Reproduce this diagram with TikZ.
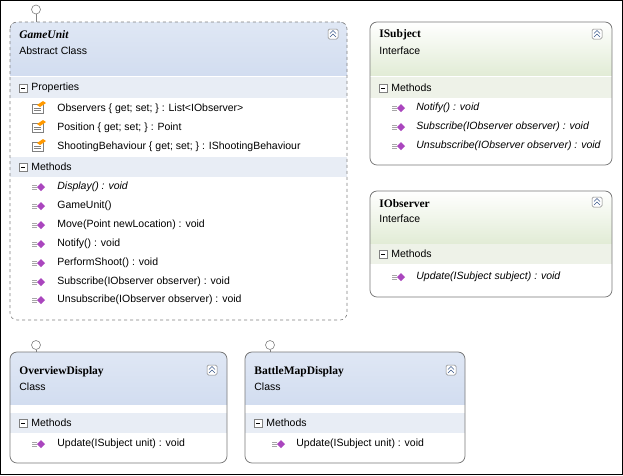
\documentclass[tikz,border=0pt]{standalone}
\usepackage{fontspec}
\setmainfont{Liberation Sans}
\newfontfamily\titlefont{Liberation Serif}
\tikzset{every picture/.style={line width=0.75pt}}
\tikzset{
  boxbody/.style={draw={rgb,255:red,120;green,120;blue,120},rounded corners=7pt,fill=white},
  txt/.style={anchor=west,inner sep=0pt,font=\fontsize{10.5}{12}\selectfont},
  ttl/.style={anchor=west,inner sep=0pt,font=\titlefont\bfseries\fontsize{11.5}{13}\selectfont},
  itl/.style={txt,font=\itshape\fontsize{10.5}{12}\selectfont},
}
\definecolor{hdblue}{RGB}{210,221,240}
\definecolor{hdgreen}{RGB}{226,236,214}
\definecolor{rowblue}{RGB}{232,237,245}
\definecolor{rowgreen}{RGB}{238,242,232}
\definecolor{purp}{RGB}{170,70,190}
\newcommand{\mticon}[2]{%
  \draw[line width=0.5pt,gray!70] (#1-8,#2-2) -- (#1-3,#2-2) (#1-8,#2) -- (#1-3,#2) (#1-8,#2+2) -- (#1-3,#2+2);
  \fill[purp] (#1+1,#2-4) -- (#1+5,#2) -- (#1+1,#2+4) -- (#1-3,#2) -- cycle;}
\newcommand{\pricon}[2]{%
  \draw[line width=0.5pt,fill=white,draw=gray] (#1-6,#2-4) rectangle (#1+5,#2+5);
  \draw[line width=0.5pt,gray] (#1-4,#2) -- (#1+3,#2) (#1-4,#2+2.5) -- (#1+3,#2+2.5);
  \fill[orange!80!yellow] (#1-1,#2-3) -- (#1+5,#2-7) -- (#1+8,#2-5) -- (#1+2,#2-1) -- cycle;}
\newcommand{\collapse}[2]{%
  \draw[line width=0.5pt,draw=gray,fill=white,rounded corners=1.5pt] (#1-5,#2-5) rectangle (#1+5,#2+5);
  \draw[line width=0.6pt,draw={rgb,255:red,60;green,90;blue,140}] (#1-3,#2-0.5) -- (#1,#2-3.5) -- (#1+3,#2-0.5) (#1-3,#2+3) -- (#1,#2) -- (#1+3,#2+3);}
\newcommand{\minus}[2]{%
  \draw[line width=0.5pt,draw=gray,fill=white] (#1-4,#2-4) rectangle (#1+4,#2+4);
  \draw[line width=0.6pt] (#1-2,#2) -- (#1+2,#2);}
\begin{document}
\begin{tikzpicture}[x=1pt,y=1pt,yscale=-1]
\draw[line width=1pt,fill=white] (0.5,0.5) rectangle (622.5,474.5);

%GameUnit
\draw[line width=0.6pt,gray] (36,14) -- (36,22);
\draw[line width=0.6pt,gray,fill=white] (36,9.5) circle (4.5);
\begin{scope}
\clip[rounded corners=7pt] (10,22) rectangle (347,320);
\fill[top color=hdblue!70,bottom color=hdblue] (10,22) rectangle (347,75);
\fill[rowblue] (10,77) rectangle (347,98);
\fill[rowblue] (10,157) rectangle (347,177);
\end{scope}
\draw[gray,dashed,line width=0.6pt,rounded corners=7pt] (10,22) rectangle (347,320);
\node[ttl,font=\titlefont\bfseries\itshape\fontsize{11.5}{13}\selectfont] (guT) at (19,35) {GameUnit};
\node[txt] (guS) at (19,51) {Abstract Class};
\collapse{333}{34}
\minus{23}{88}\node[txt] (guP) at (31,88) {Properties};
\pricon{38}{108}\node[txt] at (57,109) {Observers \{ get; set; \} : List<IObserver>};
\pricon{38}{127}\node[txt] at (57,128) {Position \{ get; set; \} : Point};
\pricon{38}{146}\node[txt] at (57,147) {ShootingBehaviour \{ get; set; \} : IShootingBehaviour};
\minus{23}{167}\node[txt] (guM) at (31,167) {Methods};
\foreach \y/\t in {206/GameUnit(),225/Move(Point newLocation) : void,244/Notify() : void,263/PerformShoot() : void,282/Subscribe(IObserver observer) : void,300/Unsubscribe(IObserver observer) : void}{
  \mticon{40}{\y}\node[txt] at (57,\y) {\t};}
\mticon{40}{187}\node[itl] at (57,187) {Display() : void};

%ISubject
\begin{scope}
\clip[rounded corners=7pt] (370,22) rectangle (612,165);
\fill[top color=white,bottom color=hdgreen] (370,22) rectangle (612,75);
\fill[rowgreen] (370,77) rectangle (612,98);
\end{scope}
\draw[boxbody,fill=none] (370,22) rectangle (612,165);
\node[ttl] (isT) at (379,35) {ISubject};
\node[txt] (isS) at (379,51) {Interface};
\collapse{597}{34}
\minus{383}{88}\node[txt] (isM) at (391,88) {Methods};
\foreach \y/\t in {108/Notify() : void,127/Subscribe(IObserver observer) : void,146/Unsubscribe(IObserver observer) : void}{
  \mticon{400}{\y}\node[itl] at (416,\y) {\t};}

%IObserver
\begin{scope}
\clip[rounded corners=7pt] (370,191) rectangle (612,297);
\fill[top color=white,bottom color=hdgreen] (370,191) rectangle (612,243);
\fill[rowgreen] (370,244) rectangle (612,264);
\end{scope}
\draw[boxbody,fill=none] (370,191) rectangle (612,297);
\node[ttl] (ioT) at (379,204) {IObserver};
\node[txt] (ioS) at (379,219) {Interface};
\collapse{597}{202}
\minus{383}{254}\node[txt] (ioM) at (391,254) {Methods};
\mticon{400}{277}\node[itl] at (416,277) {Update(ISubject subject) : void};

%OverviewDisplay
\draw[line width=0.6pt,gray] (36,350) -- (36,352);
\draw[line width=0.6pt,gray,fill=white] (36,345) circle (4.5);
\begin{scope}
\clip[rounded corners=7pt] (10,352) rectangle (227,463);
\fill[top color=hdblue!70,bottom color=hdblue] (10,352) rectangle (227,404);
\fill[rowblue] (10,413) rectangle (227,433);
\end{scope}
\draw[boxbody,fill=none] (10,352) rectangle (227,463);
\node[ttl] (odT) at (19,372) {OverviewDisplay};
\node[txt] (odS) at (19,387) {Class};
\collapse{212}{370}
\minus{23}{423}\node[txt] (odM) at (31,423) {Methods};
\mticon{40}{444}\node[txt] at (57,444) {Update(ISubject unit) : void};

%BattleMapDisplay
\draw[line width=0.6pt,gray] (270,350) -- (270,352);
\draw[line width=0.6pt,gray,fill=white] (270,345) circle (4.5);
\begin{scope}
\clip[rounded corners=7pt] (245,352) rectangle (465,463);
\fill[top color=hdblue!70,bottom color=hdblue] (245,352) rectangle (465,404);
\fill[rowblue] (245,413) rectangle (465,433);
\end{scope}
\draw[boxbody,fill=none] (245,352) rectangle (465,463);
\node[ttl] (bmT) at (254,372) {BattleMapDisplay};
\node[txt] (bmS) at (254,387) {Class};
\collapse{451}{370}
\minus{258}{423}\node[txt] (bmM) at (266,423) {Methods};
\mticon{280}{444}\node[txt] at (296,444) {Update(ISubject unit) : void};
\end{tikzpicture}
\end{document}
